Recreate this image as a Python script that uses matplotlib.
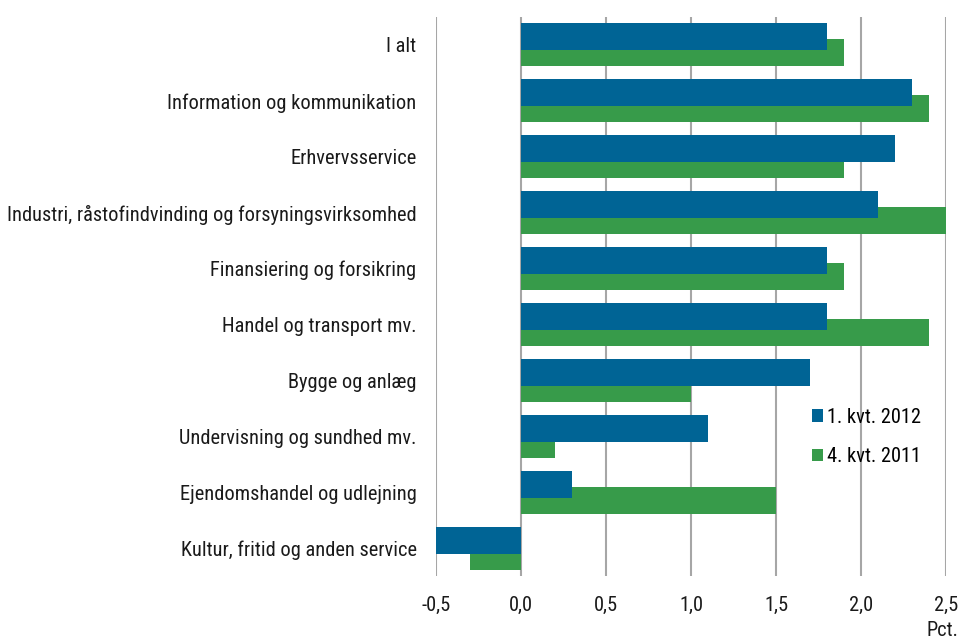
import matplotlib
matplotlib.use("Agg")
import matplotlib.pyplot as plt
from matplotlib import font_manager
import numpy as np

names = {f.name for f in font_manager.fontManager.ttflist}
fam = "Lato"
for cand in ["Roboto Condensed", "Open Sans Condensed", "Liberation Sans Narrow", "Noto Sans Condensed", "Lato"]:
    if cand in names:
        fam = cand
        break
plt.rcParams['font.family'] = [fam, 'DejaVu Sans']
fs = 14.7

kategorier = ["I alt", "Information og kommunikation", "Erhvervsservice",
              "Industri, råstofindvinding og forsyningsvirksomhed",
              "Finansiering og forsikring", "Handel og transport mv.",
              "Bygge og anlæg", "Undervisning og sundhed mv.",
              "Ejendomshandel og udlejning", "Kultur, fritid og anden service"]
kvt2012 = [1.8, 2.3, 2.2, 2.1, 1.8, 1.8, 1.7, 1.1, 0.3, -0.5]
kvt2011 = [1.9, 2.4, 1.9, 2.5, 1.9, 2.4, 1.0, 0.2, 1.5, -0.3]
xticks = [-0.5, 0.0, 0.5, 1.0, 1.5, 2.0, 2.5]

blaa = "#006495"
groen = "#379b4a"

fig = plt.figure(figsize=(9.65, 6.41), dpi=100)
ax = fig.add_axes([436/965, 1-576/641, 510/965, 559/641])

y = np.arange(len(kategorier))
off = 8/56
h = 27/56
ax.barh(y + off, kvt2011, height=h, color=groen, label="4. kvt. 2011", zorder=2)
ax.barh(y - off, kvt2012, height=h, color=blaa, label="1. kvt. 2012", zorder=3)

ax.set_xlim(-0.5, 2.5)
ax.set_ylim(len(kategorier) - 0.5, -0.5)
ax.set_xticks(xticks)
ax.set_xticklabels([f"{v:.1f}".replace(".", ",") for v in xticks], fontsize=fs)
ax.set_yticks(y)
ax.set_yticklabels(kategorier, fontsize=fs)
ax.tick_params(axis="both", length=0, colors="#1a1a1a")
ax.tick_params(axis="y", pad=14)
ax.tick_params(axis="x", pad=14)
ax.grid(axis="x", color="#a6a6a6", linewidth=1.5, zorder=0)
ax.set_axisbelow(True)
for s in ax.spines.values():
    s.set_visible(False)

handles, labels = ax.get_legend_handles_labels()
leg = ax.legend(handles[::-1], labels[::-1], loc="center left", bbox_to_anchor=(376/510, 1-(437-17)/559),
                frameon=False, fontsize=fs, handlelength=0.55, handleheight=0.55,
                handletextpad=0.2, labelspacing=1.0, borderpad=0, borderaxespad=0)

fig.text(958/965, 1-630/641, "Pct.", ha="right", va="center", fontsize=fs, color="#1a1a1a")

fig.savefig("out.png", dpi=100)
